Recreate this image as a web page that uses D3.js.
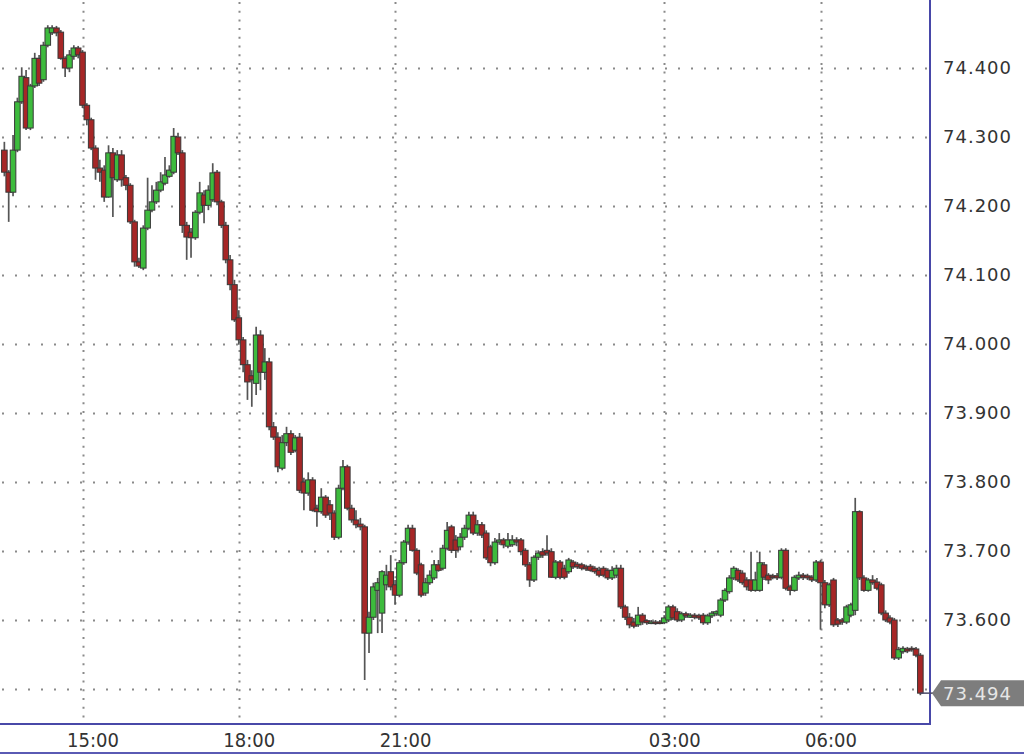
<!DOCTYPE html>
<html><head><meta charset="utf-8">
<script src="https://cdn.jsdelivr.net/npm/d3@7"></script>
<style>html,body{margin:0;padding:0;background:#fff;}svg{display:block;}</style>
</head><body>
<svg id="chart" width="1024" height="755"></svg>
<script>
// 5-minute candles, index 0 = 13:30
const openV = [74.281,74.249,74.220,74.281,74.351,74.386,74.313,74.374,74.414,74.383,74.433,74.451,74.458,74.452,74.414,74.400,74.417,74.429,74.423,74.346,
74.325,74.284,74.255,74.252,74.213,74.277,74.238,74.274,74.241,74.230,74.177,74.119,74.110,74.168,74.194,74.206,74.223,74.233,74.243,74.249,
74.300,74.277,74.172,74.162,74.154,74.191,74.216,74.201,74.209,74.249,74.206,74.172,74.122,74.086,74.038,74.006,73.970,73.954,73.943,74.013,
73.959,73.974,73.880,73.865,73.820,73.857,73.870,73.846,73.865,73.800,73.784,73.803,73.762,73.757,73.778,73.767,73.755,73.720,73.791,73.822,
73.762,73.745,73.739,73.735,73.581,73.604,73.643,73.610,73.651,73.670,73.651,73.636,73.683,73.713,73.733,73.701,73.680,73.639,73.654,73.661,
73.680,73.675,73.704,73.735,73.716,73.706,73.720,73.733,73.752,73.726,73.738,73.726,73.706,73.683,73.713,73.716,73.707,73.709,73.716,73.716,
73.701,73.680,73.658,73.691,73.699,73.701,73.699,73.662,73.684,73.675,73.670,73.684,73.681,73.680,73.677,73.678,73.675,73.672,73.675,73.672,
73.661,73.665,73.675,73.619,73.604,73.597,73.593,73.607,73.599,73.596,73.597,73.597,73.596,73.600,73.619,73.612,73.600,73.609,73.604,73.607,
73.606,73.607,73.596,73.606,73.609,73.607,73.629,73.641,73.661,73.672,73.668,73.658,73.658,73.643,73.643,73.680,73.665,73.664,73.664,73.662,
73.701,73.648,73.643,73.661,73.665,73.664,73.662,73.658,73.684,73.654,73.622,73.658,73.600,73.600,73.597,73.607,73.614,73.757,73.661,73.643,
73.658,73.655,73.651,73.610,73.603,73.600,73.545,73.554,73.558,73.559,73.558,73.549];
const highV = [74.293,74.252,74.303,74.357,74.401,74.397,74.377,74.422,74.419,74.438,74.462,74.462,74.461,74.455,74.417,74.426,74.433,74.432,74.426,74.349,
74.328,74.288,74.267,74.259,74.288,74.284,74.281,74.281,74.245,74.233,74.180,74.125,74.172,74.241,74.230,74.235,74.249,74.271,74.259,74.313,
74.306,74.281,74.177,74.168,74.194,74.235,74.223,74.230,74.262,74.252,74.209,74.177,74.129,74.093,74.049,74.010,73.977,73.962,74.025,74.020,
73.994,73.980,73.887,73.872,73.868,73.880,73.875,73.868,73.871,73.806,73.814,73.807,73.767,73.791,73.781,73.774,73.759,73.796,73.832,73.825,
73.767,73.759,73.748,73.738,73.612,73.654,73.661,73.672,73.680,73.694,73.658,73.687,73.716,73.738,73.738,73.704,73.683,73.661,73.672,73.687,
73.687,73.709,73.742,73.738,73.723,73.726,73.738,73.757,73.757,73.745,73.742,73.730,73.709,73.719,73.726,73.719,73.726,73.723,73.720,73.719,
73.704,73.684,73.694,73.701,73.704,73.723,73.704,73.687,73.687,73.680,73.690,73.687,73.684,73.683,73.680,73.681,73.678,73.677,73.678,73.675,
73.678,73.680,73.680,73.622,73.610,73.603,73.619,73.610,73.601,73.600,73.600,73.600,73.607,73.622,73.622,73.617,73.612,73.612,73.610,73.610,
73.609,73.610,73.609,73.613,73.614,73.632,73.646,73.665,73.678,73.675,73.672,73.662,73.699,73.670,73.699,73.684,73.668,73.667,73.668,73.704,
73.704,73.651,73.665,73.670,73.668,73.667,73.665,73.687,73.687,73.658,73.654,73.661,73.603,73.603,73.622,73.625,73.777,73.759,73.665,73.661,
73.665,73.661,73.654,73.614,73.607,73.603,73.561,73.562,73.561,73.562,73.561,73.552];
const lowV = [74.243,74.177,74.214,74.278,74.348,74.310,74.310,74.371,74.374,74.380,74.430,74.448,74.446,74.412,74.387,74.394,74.412,74.414,74.342,74.317,
74.281,74.238,74.235,74.206,74.212,74.184,74.235,74.228,74.223,74.174,74.112,74.110,74.107,74.165,74.191,74.203,74.220,74.230,74.241,74.246,
74.274,74.161,74.122,74.125,74.151,74.188,74.175,74.194,74.206,74.201,74.168,74.117,74.078,74.032,73.999,73.959,73.919,73.909,73.926,73.933,
73.948,73.875,73.861,73.814,73.817,73.852,73.839,73.843,73.784,73.759,73.780,73.757,73.735,73.754,73.748,73.745,73.716,73.717,73.788,73.759,
73.741,73.733,73.730,73.513,73.552,73.600,73.581,73.581,73.643,73.643,73.622,73.633,73.680,73.709,73.699,73.665,73.633,73.635,73.651,73.658,
73.670,73.672,73.701,73.697,73.690,73.701,73.716,73.730,73.723,73.722,73.719,73.687,73.678,73.680,73.709,73.704,73.704,73.706,73.707,73.694,
73.677,73.648,73.655,73.687,73.690,73.693,73.661,73.659,73.659,73.659,73.667,73.674,73.674,73.672,73.671,73.670,73.667,73.662,73.662,73.658,
73.658,73.661,73.616,73.600,73.588,73.588,73.590,73.593,73.593,73.594,73.593,73.594,73.594,73.597,73.600,73.597,73.597,73.603,73.603,73.601,
73.600,73.593,73.593,73.603,73.606,73.604,73.626,73.638,73.658,73.655,73.651,73.643,73.641,73.641,73.641,73.658,73.652,73.659,73.658,73.659,
73.643,73.636,73.641,73.658,73.658,73.658,73.655,73.655,73.586,73.617,73.619,73.590,73.590,73.593,73.594,73.604,73.607,73.658,73.641,73.641,
73.651,73.643,73.607,73.597,73.594,73.542,73.542,73.551,73.552,73.554,73.546,73.491];
const closeV = [74.249,74.220,74.281,74.351,74.388,74.313,74.374,74.414,74.378,74.433,74.458,74.458,74.451,74.414,74.400,74.419,74.429,74.419,74.346,74.325,
74.284,74.255,74.249,74.213,74.277,74.241,74.274,74.238,74.230,74.177,74.119,74.113,74.168,74.194,74.206,74.223,74.235,74.245,74.252,74.301,
74.277,74.172,74.155,74.154,74.191,74.219,74.201,74.223,74.248,74.206,74.172,74.122,74.086,74.035,74.006,73.970,73.945,73.948,74.013,73.959,
73.974,73.880,73.865,73.822,73.857,73.870,73.843,73.864,73.788,73.784,73.803,73.759,73.757,73.778,73.752,73.755,73.720,73.791,73.822,73.762,
73.745,73.738,73.735,73.581,73.604,73.648,73.654,73.670,73.665,73.648,73.636,73.683,73.713,73.733,73.701,73.668,73.636,73.654,73.665,73.680,
73.672,73.704,73.730,73.701,73.701,73.720,73.733,73.752,73.726,73.738,73.723,73.690,73.683,73.713,73.716,73.709,73.716,73.716,73.713,73.699,
73.680,73.658,73.691,73.697,73.694,73.697,73.662,73.684,73.662,73.662,73.687,73.677,73.677,73.675,73.674,73.672,73.670,73.665,73.665,73.661,
73.672,73.675,73.619,73.604,73.593,73.591,73.607,73.597,73.596,73.597,73.596,73.596,73.603,73.619,73.603,73.600,73.609,73.606,73.607,73.604,
73.603,73.596,73.606,73.610,73.612,73.629,73.643,73.661,73.675,73.658,73.654,73.648,73.643,73.658,73.683,73.662,73.658,73.662,73.661,73.701,
73.646,73.643,73.662,73.665,73.662,73.661,73.658,73.684,73.654,73.622,73.651,73.593,73.594,73.597,73.619,73.622,73.757,73.661,73.643,73.658,
73.654,73.646,73.610,73.600,73.597,73.545,73.557,73.559,73.555,73.557,73.549,73.494];

const yTicks = [73.5, 73.6, 73.7, 73.8, 73.9, 74.0, 74.1, 74.2, 74.3, 74.4];
const yTickLabels = ["", "73.600", "73.700", "73.800", "73.900", "74.000", "74.100", "74.200", "74.300", "74.400"];
const xTickIndex = [18, 54, 90, 152, 188];
const xTickLabels = ["15:00", "18:00", "21:00", "03:00", "06:00"];
const lastPrice = "73.494";

const svg = d3.select("#chart");
const plotRight = 930, plotBottom = 724;
const n = closeV.length;
const data = d3.range(n).map(i => ({i, o: openV[i], h: highV[i], l: lowV[i], c: closeV[i]}));

const x = d3.scaleLinear().domain([18, 188]).range([82.5, 820.5]);
const y = d3.scaleLinear().domain([73.5, 74.4]).range([689, 68]);

svg.append("defs").append("clipPath").attr("id", "plotclip")
  .append("rect").attr("x", 0).attr("y", 0).attr("width", plotRight).attr("height", plotBottom);

// grid
const grid = svg.append("g");
grid.selectAll("line.h").data(yTicks).join("line")
  .attr("x1", 2).attr("x2", plotRight - 2)
  .attr("y1", d => Math.round(y(d)) + 0.5).attr("y2", d => Math.round(y(d)) + 0.5)
  .attr("stroke", "#8a8a8a").attr("stroke-width", 2).attr("stroke-dasharray", "2 11");
grid.selectAll("line.v").data(xTickIndex).join("line")
  .attr("x1", d => Math.round(x(d)) + 0.5).attr("x2", d => Math.round(x(d)) + 0.5)
  .attr("y1", 2).attr("y2", plotBottom)
  .attr("stroke", "#8a8a8a").attr("stroke-width", 2).attr("stroke-dasharray", "2 6.7");

// candles
const cg = svg.append("g").attr("clip-path", "url(#plotclip)");
const bw = 5.6;
const candle = cg.selectAll("g.c").data(data).join("g");
candle.append("line")
  .attr("x1", d => x(d.i)).attr("x2", d => x(d.i))
  .attr("y1", d => y(d.h)).attr("y2", d => y(d.l))
  .attr("stroke", "#555").attr("stroke-width", 1.7);
candle.append("rect")
  .attr("x", d => x(d.i) - bw / 2)
  .attr("y", d => y(Math.max(d.o, d.c)))
  .attr("width", bw)
  .attr("height", d => Math.max(1.5, Math.abs(y(d.o) - y(d.c))))
  .attr("fill", d => d.c >= d.o ? "#3dbb3d" : "#a62626")
  .attr("stroke", "#383838").attr("stroke-width", 1);

// border
svg.append("line").attr("x1", plotRight).attr("x2", plotRight).attr("y1", 0).attr("y2", plotBottom + 1)
  .attr("stroke", "#4848a8").attr("stroke-width", 2);
svg.append("line").attr("x1", 0).attr("x2", plotRight + 1).attr("y1", plotBottom).attr("y2", plotBottom)
  .attr("stroke", "#4848a8").attr("stroke-width", 2);
svg.append("line").attr("x1", 0).attr("x2", 1024).attr("y1", 753).attr("y2", 753)
  .attr("stroke", "#5a5ab4").attr("stroke-width", 2);

// y axis labels
const yAxis = d3.axisRight(y).tickValues(yTicks)
  .tickFormat((d, k) => yTickLabels[k]).tickSize(0).tickPadding(0);
const ya = svg.append("g").attr("transform", `translate(943,0)`).call(yAxis);
ya.select(".domain").remove();
ya.selectAll("text").attr("font-family", "DejaVu Sans, Verdana, sans-serif")
  .attr("font-size", 18).attr("fill", "#333").attr("letter-spacing", "1px").attr("x", 0);

// x axis labels
const xAxis = d3.axisBottom(x).tickValues(xTickIndex)
  .tickFormat((d, k) => xTickLabels[k]).tickSize(0).tickPadding(0);
const xa = svg.append("g").attr("transform", `translate(10,729)`).call(xAxis);
xa.select(".domain").remove();
xa.selectAll("text").attr("font-family", "DejaVu Sans Condensed, DejaVu Sans, sans-serif")
  .attr("font-size", 20).attr("fill", "#333").attr("dy", "0.9em");

// last price tag
const ly = y(closeV[n - 1]);
svg.append("line").attr("x1", x(n - 1)).attr("x2", 934).attr("y1", ly).attr("y2", ly)
  .attr("stroke", "#4a4a6a").attr("stroke-width", 1.5);
svg.append("path")
  .attr("d", `M932,${ly} L941,${ly - 13} L1024,${ly - 13} L1024,${ly + 13} L941,${ly + 13} Z`)
  .attr("fill", "#7d7d7d");
svg.append("text").attr("x", 943).attr("y", ly).attr("dy", "0.36em")
  .attr("font-family", "DejaVu Sans, Verdana, sans-serif").attr("font-size", 18)
  .attr("letter-spacing", "1px").attr("fill", "#e6e6e6").text(lastPrice);
</script>
</body></html>
